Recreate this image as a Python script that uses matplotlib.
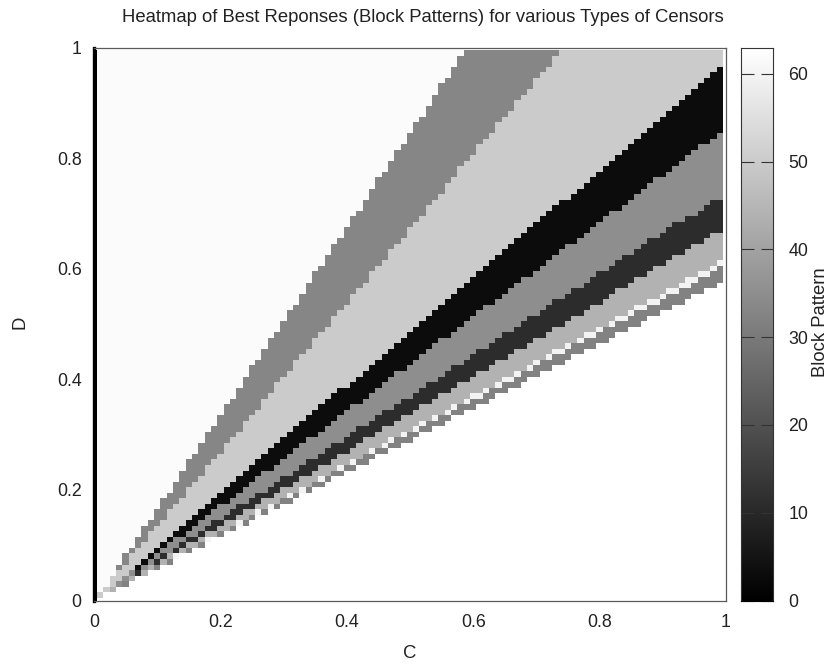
import numpy as np
import matplotlib
matplotlib.use("Agg")
import matplotlib.pyplot as plt
from matplotlib.colors import Normalize

plt.rcParams['font.family'] = ['Liberation Sans', 'DejaVu Sans']

title = "Heatmap of Best Reponses (Block Patterns) for various Types of Censors"
ticks_xy = [0, 0.2, 0.4, 0.6, 0.8, 1]
tick_labels_xy = ["0", "0.2", "0.4", "0.6", "0.8", "1"]
ticks_cb = [0, 10, 20, 30, 40, 50, 60]

# Top (exclusive) row index of each band, for columns C = 0.01 ... 0.99
floor_row = [1,2,2,3,3,4,5,5,6,6,7,7,8,9,9,10,10,11,12,12,13,13,14,14,15,16,16,17,17,18,18,19,20,20,21,21,22,23,23,24,24,25,25,26,27,27,28,28,29,29,30,31,31,32,32,33,34,34,35,35,36,36,37,38,38,39,39,40,41,41,42,42,43,43,44,45,45,46,46,47,47,48,49,49,50,50,51,52,52,53,53,54,54,55,56,56,57,57,58]
gray32_top = [1,2,2,3,4,4,5,5,6,7,7,8,8,9,10,10,11,11,12,13,13,14,14,15,16,16,17,17,18,19,19,20,20,21,22,22,23,24,24,25,25,26,27,27,28,28,29,30,30,31,31,32,33,33,34,34,35,36,36,37,37,38,39,39,40,40,41,42,42,43,44,44,45,45,46,47,47,48,48,49,50,50,51,51,52,53,53,54,54,55,56,56,57,57,58,59,59,60,61]
spot60_top = [1,2,2,3,4,4,5,5,6,7,7,8,9,9,10,10,11,12,12,13,13,14,15,15,16,17,17,18,18,19,20,20,21,21,22,23,23,24,25,25,26,26,27,28,28,29,30,30,31,31,32,33,33,34,34,35,36,36,37,38,38,39,39,40,41,41,42,42,43,44,44,45,46,46,47,47,48,49,49,50,50,51,52,52,53,54,54,55,55,56,57,57,58,59,59,60,60,61,62]
light44_top = [1,2,3,3,4,5,5,6,7,7,8,9,9,10,11,11,12,13,13,14,15,15,16,17,17,18,19,19,20,21,21,22,23,23,24,25,25,26,27,27,28,29,30,30,31,32,32,33,34,34,35,36,36,37,38,38,39,40,40,41,42,42,43,44,44,45,46,46,47,48,48,49,50,50,51,52,52,53,54,54,55,56,57,57,58,59,59,60,61,61,62,63,63,64,65,65,66,67,67]
dark11_top = [1,2,3,3,4,5,6,6,7,8,9,9,10,11,12,12,13,14,15,15,16,17,18,18,19,20,20,21,22,23,23,24,25,26,26,27,28,29,29,30,31,32,32,33,34,35,35,36,37,37,38,39,40,40,41,42,43,43,44,45,46,46,47,48,49,49,50,51,52,52,53,54,55,55,56,57,57,58,59,60,60,61,62,63,63,64,65,66,66,67,68,69,69,70,70,71,72,73,73]
gray35_top = [1,2,3,4,5,6,6,7,8,9,10,11,12,12,13,14,15,16,17,18,18,19,20,21,22,23,24,24,25,26,27,28,29,30,30,31,32,33,34,35,36,36,37,38,39,40,41,42,42,43,44,45,46,47,48,48,49,50,51,52,53,54,54,55,56,57,58,59,59,60,61,62,63,64,65,65,66,67,68,69,70,71,71,72,73,74,75,76,77,77,78,79,80,81,82,83,83,84,85]
black3_top = [1,2,3,4,5,6,7,8,9,10,11,12,13,14,15,16,17,18,19,20,21,22,23,24,25,26,27,28,29,30,31,32,33,34,35,36,37,38,39,39,40,41,42,43,44,45,46,47,48,49,50,51,52,53,54,55,56,57,58,59,60,61,62,63,64,65,66,67,68,69,70,71,72,73,73,74,75,76,77,78,79,80,81,82,83,84,85,86,87,88,89,90,91,92,93,94,95,96,97]
light50_top = [2,3,5,6,7,9,10,11,13,14,15,17,18,19,21,22,23,25,26,27,29,30,31,33,34,35,37,38,40,41,42,44,45,46,48,49,50,52,53,54,56,57,58,60,61,62,64,65,66,68,69,70,72,73,74,76,77,79,80,81,83,84,85,87,88,89,91,92,93,95,96,97,99,100,100,100,100,100,100,100,100,100,100,100,100,100,100,100,100,100,100,100,100,100,100,100,100,100,100]
gray33_top = [2,3,5,7,9,10,12,14,15,17,19,20,22,24,26,27,29,31,32,34,36,37,39,41,43,44,46,48,49,51,53,54,56,58,60,61,63,65,66,68,70,71,73,75,77,78,80,82,83,85,87,88,90,92,94,95,97,99,100,100,100,100,100,100,100,100,100,100,100,100,100,100,100,100,100,100,100,100,100,100,100,100,100,100,100,100,100,100,100,100,100,100,100,100,100,100,100,100,100]

bands = [
    (gray32_top, 32), (spot60_top, 60), (light44_top, 44),
    (dark11_top, 11), (gray35_top, 35), (black3_top, 3), (light50_top, 50),
    (gray33_top, 33),
]
top_white = 62

n = 100
grid = np.full((n, n), np.nan)
grid[:, 0] = 0
for i in range(1, n):
    col = np.full(n, float(top_white))
    for top, val in reversed(bands):
        col[:top[i - 1]] = val
    col[:floor_row[i - 1]] = np.nan
    grid[:, i] = col

W, H = 830, 665
FS = 13.3
TICK_FS = 12.8
TXT = '#222222'
fig = plt.figure(figsize=(W / 100, H / 100), dpi=100)
L, R, T, B = 94, 726, 47.5, 600.5
ax = fig.add_axes([L / W, 1 - B / H, (R - L) / W, (B - T) / H])
edges = (np.arange(n + 1) - 0.5) * 0.01
norm = Normalize(0, 63)
ax.pcolormesh(edges, edges, grid, cmap='gray', norm=norm, shading='flat', linewidth=0)
ax.set_xlim(0, 1)
ax.set_ylim(0, 1)
ax.set_xticks(ticks_xy, tick_labels_xy)
ax.set_yticks(ticks_xy, tick_labels_xy)
ax.tick_params(length=0, labelsize=TICK_FS, colors=TXT)
ax.tick_params(axis='x', pad=10)
ax.tick_params(axis='y', pad=9)
for s in ax.spines.values():
    s.set_color('#5a5a5a')
    s.set_linewidth(0.9)
ax.spines['left'].set_color('black')
ax.spines['left'].set_linewidth(2.4)

fig.text(423 / W, 1 - 17 / H, title, ha='center', va='center', fontsize=FS, color=TXT)
fig.text(410 / W, 1 - 653 / H, "C", ha='center', va='center', fontsize=FS, color=TXT)
fig.text(20 / W, 1 - 322 / H, "D", ha='center', va='center', rotation=90, fontsize=FS, color=TXT)
fig.text(820 / W, 1 - 322 / H, "Block Pattern", ha='center', va='center', rotation=90, fontsize=FS, color=TXT)

cax = fig.add_axes([741 / W, 1 - B / H, 32 / W, (B - T) / H])
ramp_edges = np.linspace(0, 63, 513)
ramp_vals = 0.5 * (ramp_edges[:-1] + ramp_edges[1:])
cax.pcolormesh([0, 1], ramp_edges, ramp_vals.reshape(-1, 1), cmap='gray', norm=norm, shading='flat', linewidth=0)
cax.set_xlim(0, 1)
cax.set_ylim(0, 63)
cax.set_xticks([])
cax.set_yticks(ticks_cb)
cax.yaxis.tick_right()
cax.tick_params(axis='y', direction='in', length=9, width=0.8, color='#333333', labelsize=TICK_FS, pad=11,
                labelcolor=TXT, left=True)
for s in cax.spines.values():
    s.set_color('#333333')
    s.set_linewidth(0.8)
cax.spines['bottom'].set_color('black')

fig.savefig('out.png', dpi=100)
